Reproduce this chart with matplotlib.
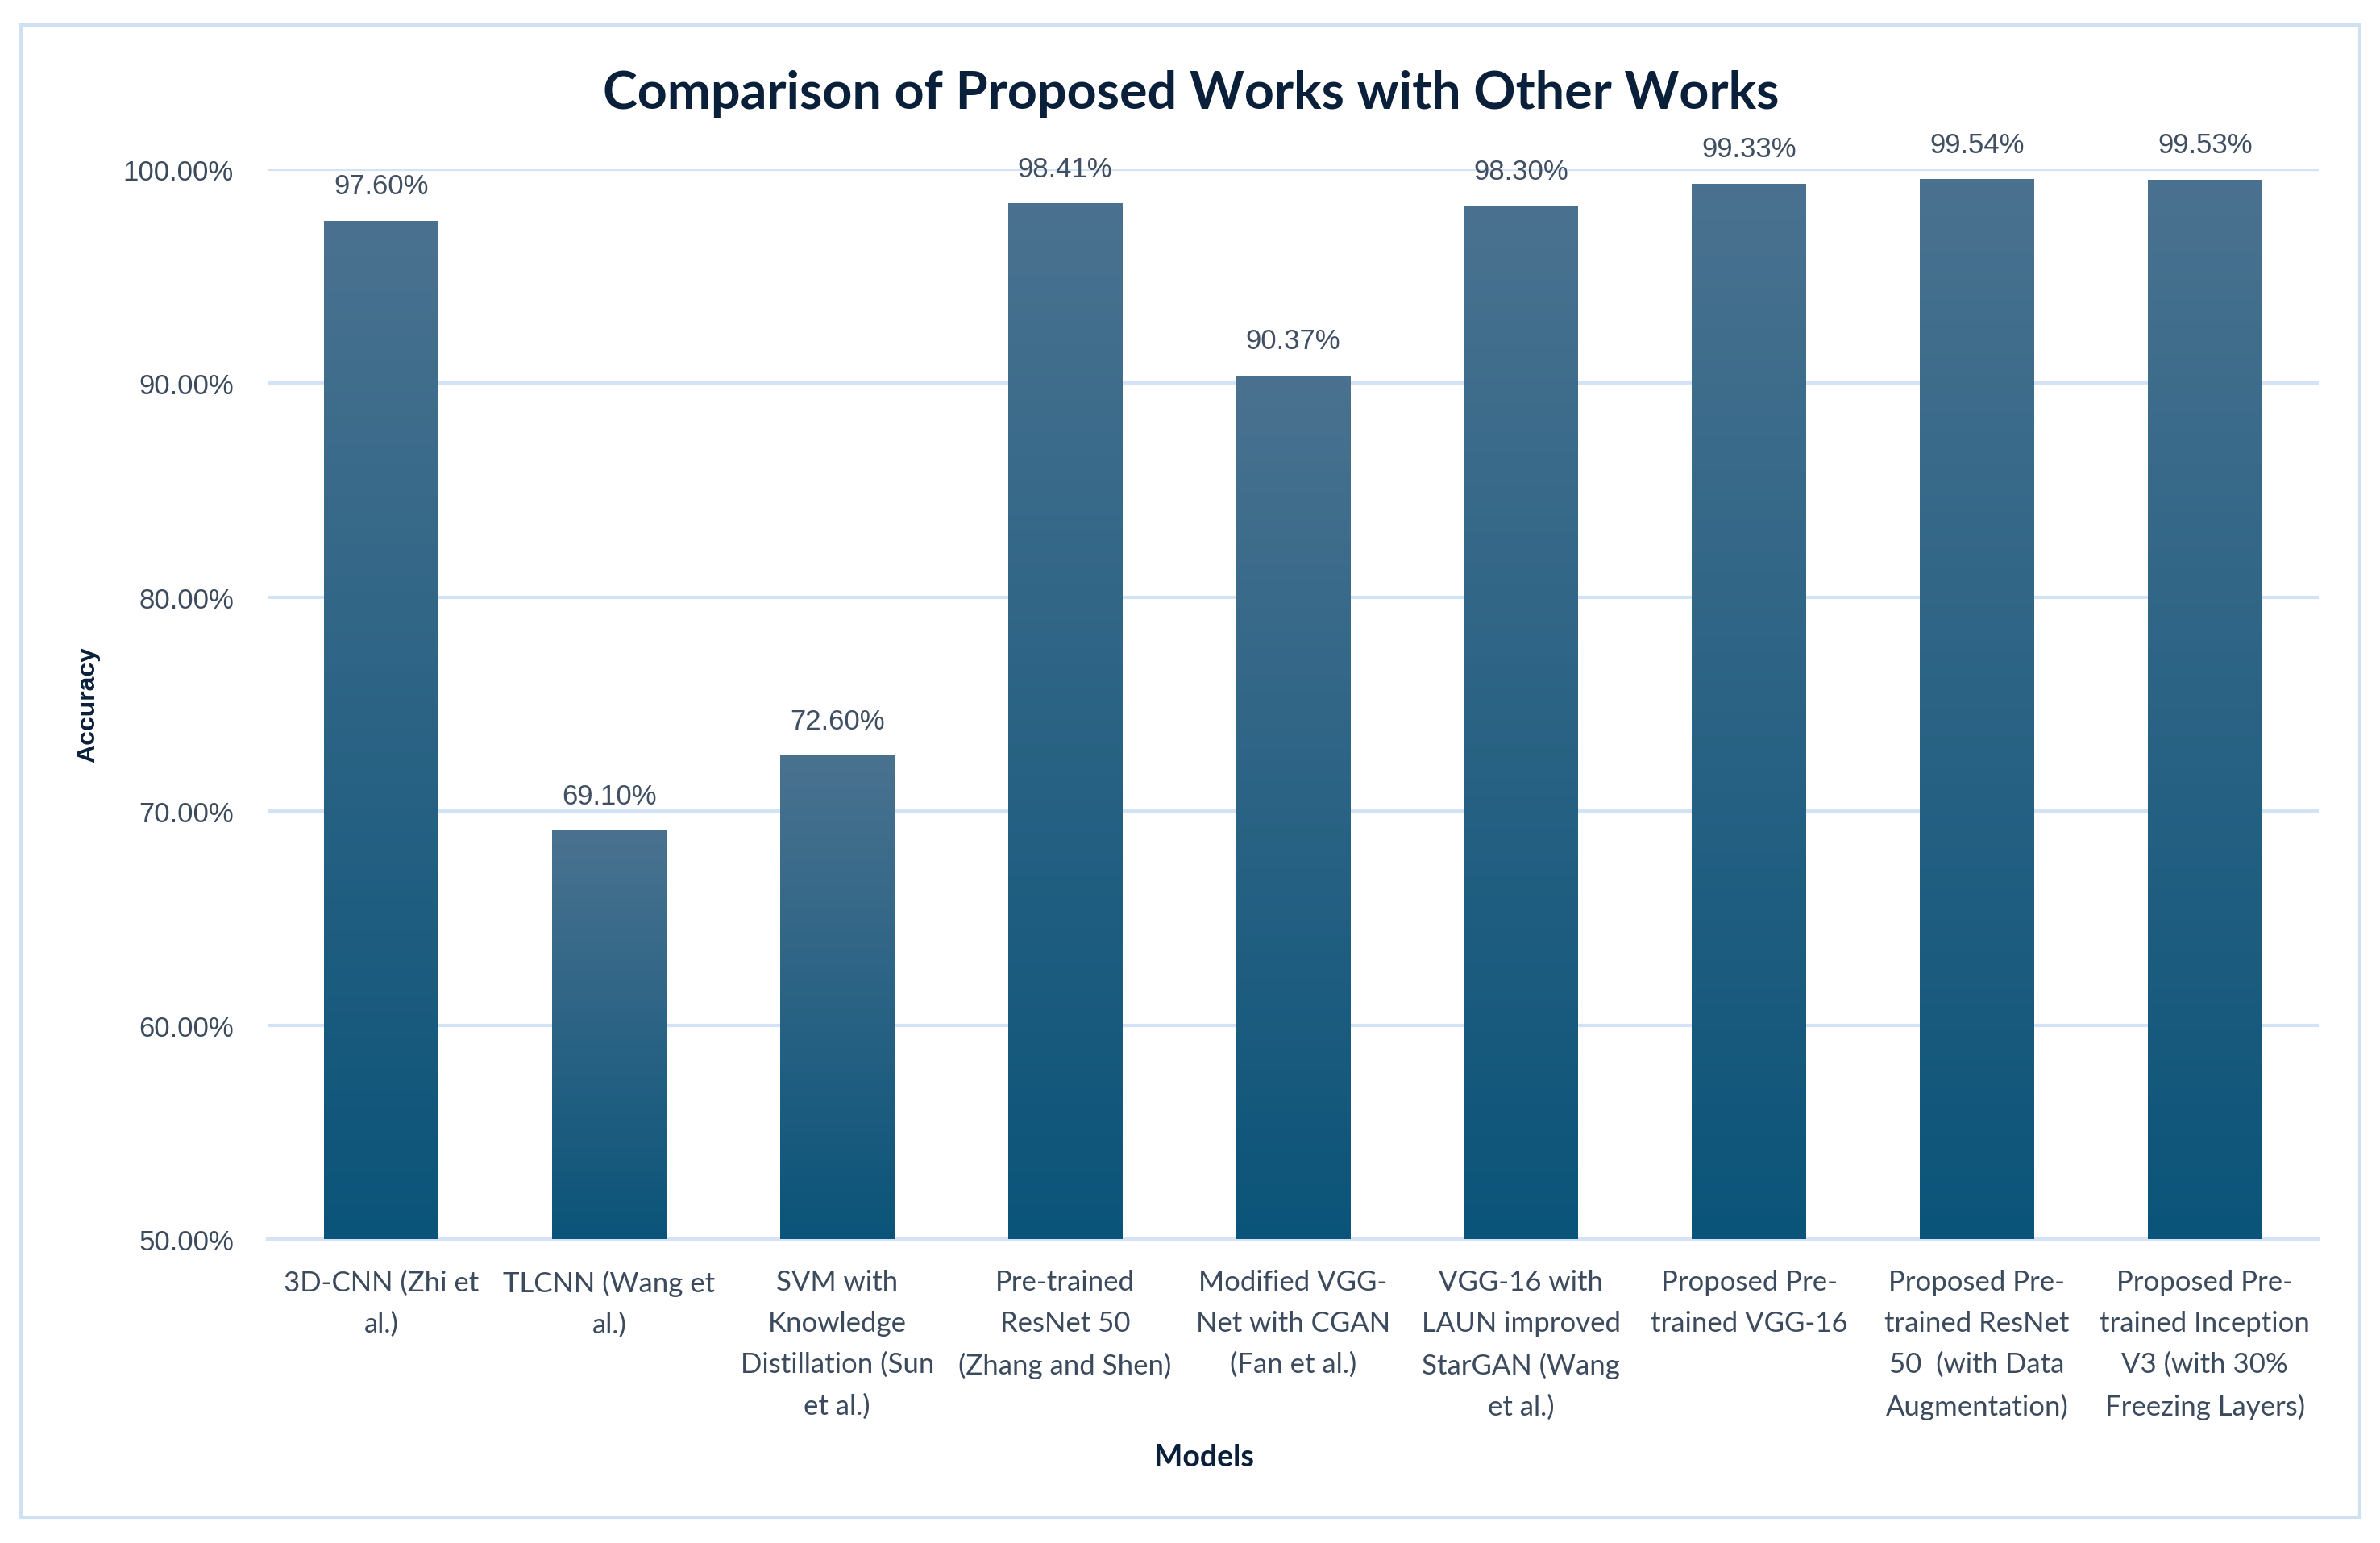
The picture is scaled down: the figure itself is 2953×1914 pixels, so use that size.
import numpy as np
import matplotlib
matplotlib.use("Agg")
import matplotlib.pyplot as plt
from matplotlib.colors import LinearSegmentedColormap
from matplotlib.patches import Rectangle

categories = [
    "3D-CNN (Zhi et\nal.)",
    "TLCNN (Wang et\nal.)",
    "SVM with\nKnowledge\nDistillation (Sun\net al.)",
    "Pre-trained\nResNet 50\n(Zhang and Shen)",
    "Modified VGG-\nNet with CGAN\n(Fan et al.)",
    "VGG-16 with\nLAUN improved\nStarGAN (Wang\net al.)",
    "Proposed Pre-\ntrained VGG-16",
    "Proposed Pre-\ntrained ResNet\n50  (with Data\nAugmentation)",
    "Proposed Pre-\ntrained Inception\nV3 (with 30%\nFreezing Layers)",
]
values = [97.60, 69.10, 72.60, 98.41, 90.37, 98.30, 99.33, 99.54, 99.53]
value_labels = ["97.60%", "69.10%", "72.60%", "98.41%", "90.37%", "98.30%",
                "99.33%", "99.54%", "99.53%"]
yticks = [50, 60, 70, 80, 90, 100]
ytick_labels = ["50.00%", "60.00%", "70.00%", "80.00%", "90.00%", "100.00%"]

plt.rcParams['font.family'] = ['Lato', 'DejaVu Sans']
ARIAL = ['Liberation Sans', 'DejaVu Sans']

W, H = 2953, 1915
fig = plt.figure(figsize=(W / 100, H / 100), dpi=100)
fig.patch.set_facecolor("white")

# outer light-blue frame
fig.add_artist(Rectangle((0.0088, 0.0167), 0.9827, 0.9666, transform=fig.transFigure,
                         fill=False, edgecolor="#cfe0f3", linewidth=3))

ax = fig.add_axes([0.1123, 0.1969, 0.862, 0.6929])
x = np.arange(len(values))
bars = ax.bar(x, values, width=0.5, bottom=0, color="none", zorder=3)

cmap = LinearSegmentedColormap.from_list("g", ["#0b5479", "#4a7290"])
grad = np.linspace(0, 1, 256).reshape(-1, 1)
for b in bars:
    bx, bw, bh = b.get_x(), b.get_width(), b.get_height()
    im = ax.imshow(grad, cmap=cmap, origin="lower", aspect="auto",
                   extent=[bx, bx + bw, 50, bh], zorder=3)
    im.set_clip_path(b)

ax.set_xlim(-0.5, len(values) - 0.5)
ax.set_ylim(50, 100)

for b, lab in zip(bars, value_labels):
    ax.annotate(lab, (b.get_x() + b.get_width() / 2, b.get_height()),
                xytext=(0, 31), textcoords="offset points", ha="center", va="center",
                fontsize=25, color="#404f62", family=ARIAL, annotation_clip=False)

ax.set_yticks(yticks)
ax.set_yticklabels(ytick_labels, family=ARIAL)
ax.set_xticks(x)
ax.set_xticklabels(categories, linespacing=1.72)
ax.tick_params(axis="y", length=0, pad=30, labelsize=25, labelcolor="#3b4a5c")
ax.tick_params(axis="x", length=0, pad=27, labelsize=25, labelcolor="#3b4a5c")

ax.grid(axis="y", color="#d3e2f4", linewidth=3, zorder=0)
ax.set_axisbelow(True)
for s in ["top", "right", "left"]:
    ax.spines[s].set_visible(False)
ax.spines["bottom"].set_color("#d3e2f4")
ax.spines["bottom"].set_linewidth(3)

fig.text(0.5005, 0.939, "Comparison of Proposed Works with Other Works",
         ha="center", va="center", fontsize=46.5, fontweight="bold", color="#0a1f3a")
fig.text(0.0369, 0.5434, "Accuracy", rotation=90, ha="center", va="center",
         fontsize=23, fontweight="bold", color="#0a1f3a", family=ARIAL)
fig.text(0.5058, 0.0559, "Models", ha="center", va="center",
         fontsize=27, fontweight="bold", color="#0a1f3a")

fig.savefig("out.png", dpi=100, facecolor="white")
